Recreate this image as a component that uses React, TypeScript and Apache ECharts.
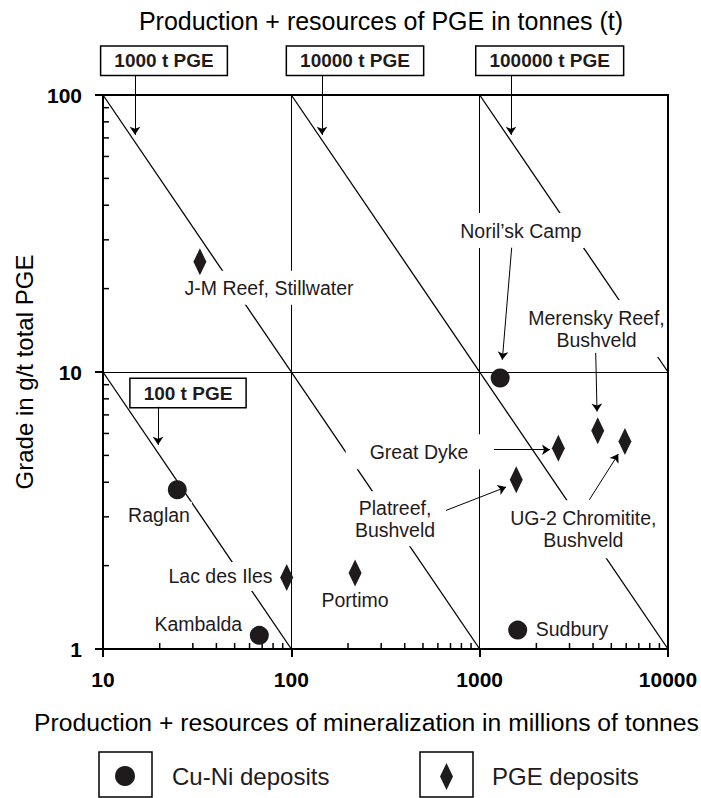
import React, { useEffect, useRef } from 'react';
import * as echarts from 'echarts';

const FONT = '"Liberation Sans", Arial, Helvetica, sans-serif';
const INK = '#1f1b1c';

// axes
const xTickValues = [10, 100, 1000, 10000];
const yTickValues = [1, 10, 100];
const xMinorTicks = [20, 30, 40, 50, 60, 70, 80, 90, 200, 300, 400, 500, 600, 700, 800, 900, 2000, 3000, 4000, 5000, 6000, 7000, 8000, 9000];
const yMinorTicks = [2, 3, 4, 5, 6, 7, 8, 9, 20, 30, 40, 50, 60, 70, 80, 90];

// iso-lines of contained PGE (tonnage x grade = constant)
const isoNames = ['100 t PGE', '1000 t PGE', '10000 t PGE', '100000 t PGE'];
const isoStart = [[10, 10], [10, 100], [100, 100], [1000, 100]];
const isoEnd = [[100, 1], [1000, 1], [10000, 1], [10000, 10]];
const isoBoxPos = [[28.27, 8.39], [21.08, 132.8], [217.8, 132.8], [2354, 132.8]];
const isoArrowFrom = [[19.6, 7.49], [14.79, 118], [145.5, 118], [1467, 118]];
const isoArrowTo = [[19.6, 5.46], [14.79, 71.8], [145.5, 71.8], [1467, 71.8]];

// Cu-Ni deposits
const cuNiNames = ['Raglan', 'Kambalda', 'Noril’sk Camp', 'Sudbury'];
const cuNiTonnage = [24.8, 67.6, 1285, 1592];
const cuNiGrade = [3.76, 1.12, 9.51, 1.17];

// PGE deposits
const pgeNames = ['J-M Reef, Stillwater', 'Lac des Iles', 'Portimo', 'Platreef, Bushveld', 'Great Dyke', 'Merensky Reef, Bushveld', 'UG-2 Chromitite, Bushveld'];
const pgeTonnage = [32.7, 94.5, 218, 1564, 2617, 4235, 5905];
const pgeGrade = [25.0, 1.81, 1.88, 4.08, 5.31, 6.13, 5.61];

// deposit labels
const labelTexts = ['Raglan', 'Kambalda', 'Noril’sk Camp', 'Sudbury', 'J-M Reef, Stillwater', 'Lac des Iles', 'Portimo', 'Platreef,\nBushveld', 'Great Dyke', 'Merensky Reef,\nBushveld', 'UG-2 Chromitite,\nBushveld'];
const labelPos = [[19.83, 3.053], [32.06, 1.234], [1652, 32.4], [3093, 1.181], [76.1, 20.13], [42.06, 1.828], [217.8, 1.498], [355.2, 2.953], [470.6, 5.15], [4096, 14.35], [3551, 2.706]];
const labelPadding = [[2, 2, 2, 2], [2, 2, 2, 2], [6, 3, 7, 3], [2, 2, 2, 2], [6, 6, 6, 6], [3, 4, 4, 4], [2, 2, 2, 2], [4, 4, 7, 4], [6, 22, 7, 24], [3, 1, 10, 4], [8, 4, 6, 4]];

// label arrows
const arrowFrom = [[1479, 28.1], [4132, 11.73], [1191, 5.24], [662.6, 3.164], [3822, 3.457]];
const arrowTo = [[1319, 11.07], [4199, 7.2], [2363, 5.24], [1380, 3.842], [5447, 5.054]];

export default function App() {
  const ref = useRef<HTMLDivElement>(null);

  useEffect(() => {
    if (!ref.current) return;
    const chart = echarts.init(ref.current, null, { renderer: 'svg', width: 701, height: 798 });

    const tickStyle = { stroke: '#000', lineWidth: 1.5 };

    const option: any = {
      animation: false,
      backgroundColor: '#fff',
      grid: {
        left: 103, right: 33, top: 95, bottom: 149, show: true, borderColor: '#000', borderWidth: 2,
        backgroundColor: 'transparent', containLabel: false, outerBoundsMode: 'none',
      },
      xAxis: {
        type: 'log', logBase: 10, min: xTickValues[0], max: xTickValues[xTickValues.length - 1],
        axisLine: { lineStyle: { color: '#000', width: 2 } },
        axisTick: { inside: false, length: 8, lineStyle: { color: '#000', width: 2 } },
        axisLabel: { color: '#000', fontWeight: 'bold', fontSize: 21, fontFamily: FONT, margin: 20, formatter: (v: number) => String(Math.round(v)) },
        splitLine: { show: true, lineStyle: { color: '#000', width: 1 } },
        name: 'Production + resources of mineralization in millions of tonnes',
        nameLocation: 'middle', nameGap: 61,
        nameTextStyle: { color: '#000', fontSize: 24.7, fontFamily: FONT, padding: [0, 38, 0, 0] },
      },
      yAxis: {
        type: 'log', logBase: 10, min: yTickValues[0], max: yTickValues[yTickValues.length - 1],
        axisLine: { lineStyle: { color: '#000', width: 2 } },
        axisTick: { inside: false, length: 8, lineStyle: { color: '#000', width: 2 } },
        axisLabel: { color: '#000', fontWeight: 'bold', fontSize: 21, fontFamily: FONT, margin: 21, padding: [5, 0, 0, 0], formatter: (v: number) => String(Math.round(v)) },
        splitLine: { show: true, lineStyle: { color: '#000', width: 1 } },
        name: 'Grade in g/t total PGE',
        nameLocation: 'middle', nameGap: 67, nameRotate: 90,
        nameTextStyle: { color: '#000', fontSize: 24, fontFamily: FONT },
      },
      legend: [
        {
          data: ['Cu-Ni deposits'], left: 115, top: 764, padding: 0, icon: 'circle',
          itemWidth: 20, itemHeight: 20, selectedMode: false,
          itemStyle: { opacity: 1 },
          textStyle: { color: INK, fontSize: 24, fontFamily: FONT, padding: [0, 0, 0, 32] },
        },
        {
          data: ['PGE deposits'], left: 440, top: 763, padding: 0, icon: 'diamond',
          itemWidth: 13, itemHeight: 27, selectedMode: false,
          itemStyle: { opacity: 1 },
          textStyle: { color: INK, fontSize: 24, fontFamily: FONT, padding: [0, 0, 0, 34] },
        },
      ],
      graphic: [
        {
          type: 'text', x: 381, y: 21, silent: true,
          style: { text: 'Production + resources of PGE in tonnes (t)', fontSize: 25, fontFamily: FONT, fill: '#000', align: 'center', verticalAlign: 'middle' },
        },
        { type: 'rect', shape: { x: 99, y: 752, width: 53, height: 45 }, style: { fill: 'none', stroke: '#000', lineWidth: 1.5 }, silent: true },
        { type: 'rect', shape: { x: 420, y: 752, width: 53, height: 45 }, style: { fill: 'none', stroke: '#000', lineWidth: 1.5 }, silent: true },
      ],
      series: [
        // minor ticks (inward)
        {
          type: 'custom', silent: true, z: 3,
          data: xMinorTicks.map((v) => [v, yTickValues[0]]),
          renderItem: (params: any, api: any) => {
            const p = api.coord([api.value(0), api.value(1)]);
            return { type: 'line', shape: { x1: p[0], y1: p[1], x2: p[0], y2: p[1] - 6 }, style: tickStyle };
          },
        },
        {
          type: 'custom', silent: true, z: 3,
          data: yMinorTicks.map((v) => [xTickValues[0], v]),
          renderItem: (params: any, api: any) => {
            const p = api.coord([api.value(0), api.value(1)]);
            return { type: 'line', shape: { x1: p[0], y1: p[1], x2: p[0] + 6, y2: p[1] }, style: tickStyle };
          },
        },
        // iso-lines
        ...isoNames.map((n, i) => ({
          type: 'line', name: n, silent: true, z: 2, showSymbol: false, symbol: 'none',
          data: [isoStart[i], isoEnd[i]],
          lineStyle: { color: '#000', width: 1.3 },
        })),
        // deposit labels (white boxes that interrupt lines)
        {
          type: 'scatter', name: 'labels', silent: true, z: 4, symbolSize: 0, clip: false,
          itemStyle: { opacity: 1 },
          data: labelTexts.map((t, i) => ({
            value: labelPos[i],
            label: {
              show: true, position: 'inside', formatter: t, align: 'center', verticalAlign: 'middle',
              color: INK, fontSize: 19.5, fontFamily: FONT, lineHeight: 22,
              backgroundColor: '#fff', padding: labelPadding[i],
            },
          })),
        },
        // iso-line boxes
        {
          type: 'scatter', name: 'isoLabels', silent: true, z: 4, symbolSize: 0, clip: false,
          itemStyle: { opacity: 1 },
          data: isoNames.map((t, i) => ({
            value: isoBoxPos[i],
            label: {
              show: true, position: 'inside', formatter: t, align: 'center', verticalAlign: 'middle',
              color: INK, fontSize: 19, fontWeight: 'bold', fontFamily: FONT, lineHeight: 22,
              backgroundColor: '#fff', borderColor: '#000', borderWidth: 1.5, padding: [3, 13],
            },
          })),
        },
        // arrows
        {
          type: 'lines', coordinateSystem: 'cartesian2d', silent: true, z: 6, clip: false,
          symbol: ['none', 'arrow'], symbolSize: 8,
          lineStyle: { color: '#000', width: 1, opacity: 1, curveness: 0 },
          data: [
            ...isoArrowFrom.map((f, i) => ({ coords: [f, isoArrowTo[i]] })),
            ...arrowFrom.map((f, i) => ({ coords: [f, arrowTo[i]] })),
          ],
        },
        // deposits
        {
          type: 'scatter', name: 'Cu-Ni deposits', z: 7, symbol: 'circle', symbolSize: 19,
          itemStyle: { color: INK, opacity: 1 },
          data: cuNiNames.map((n, i) => ({ name: n, value: [cuNiTonnage[i], cuNiGrade[i]] })),
        },
        {
          type: 'scatter', name: 'PGE deposits', z: 7, symbol: 'diamond', symbolSize: [13, 27],
          itemStyle: { color: INK, opacity: 1 },
          data: pgeNames.map((n, i) => ({ name: n, value: [pgeTonnage[i], pgeGrade[i]] })),
        },
      ],
    };

    chart.setOption(option);
    return () => chart.dispose();
  }, []);

  return <div ref={ref} style={{ position: 'fixed', left: 0, top: 0, width: 701, height: 798, background: '#fff' }} />;
}
